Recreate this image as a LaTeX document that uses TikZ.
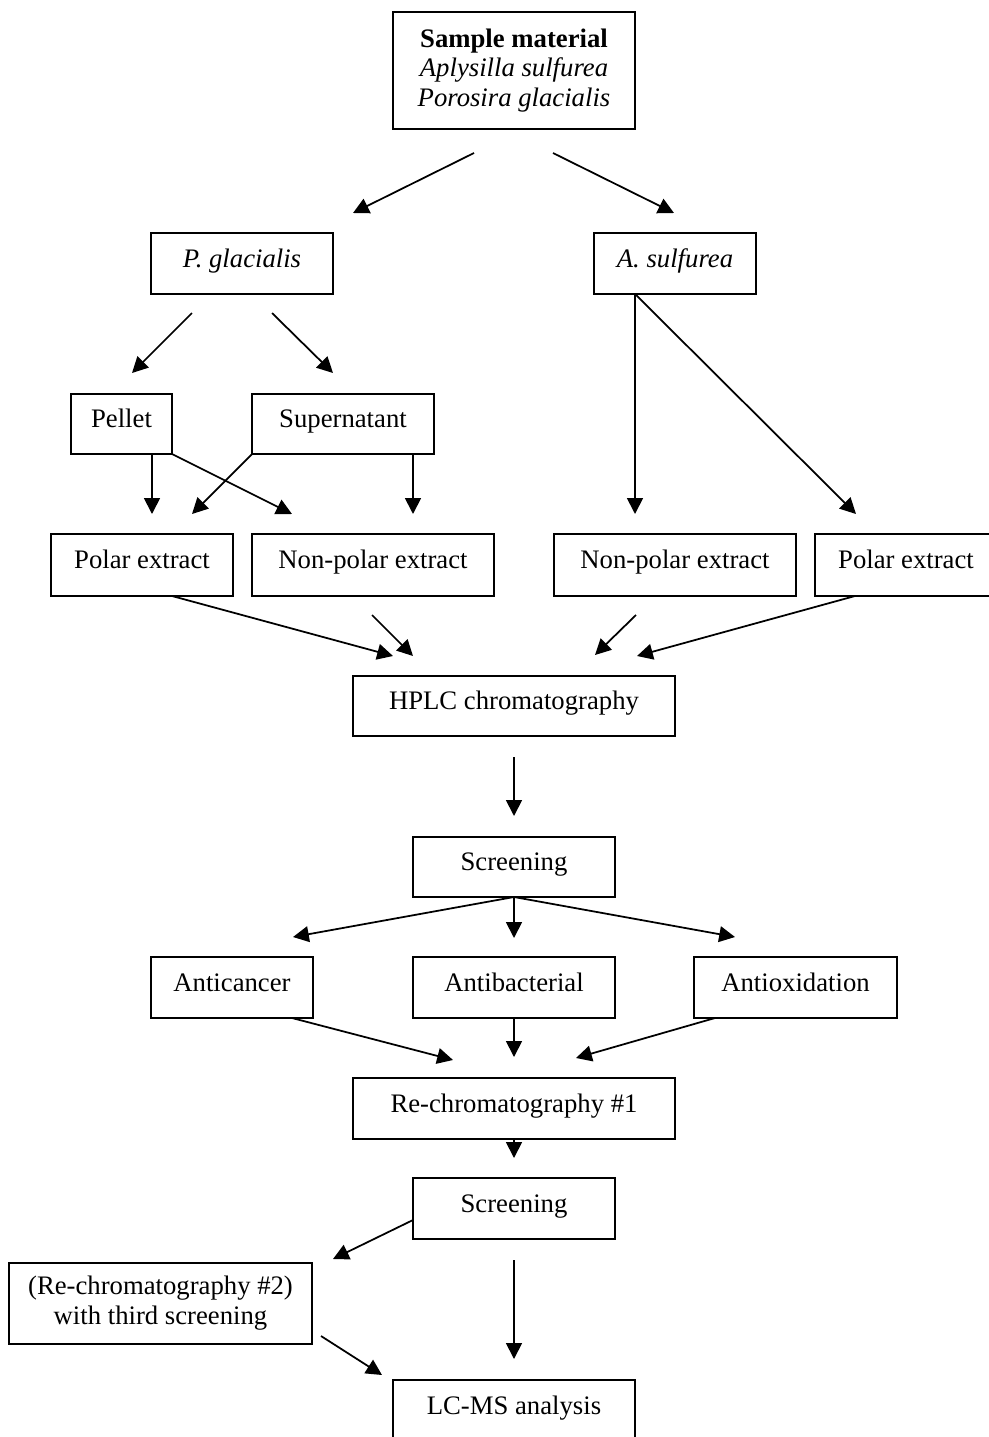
\documentclass[tikz,border=0pt]{standalone}
\usepackage{fontspec}
\setmainfont{Liberation Serif}
\usetikzlibrary{arrows.meta}

\tikzset{
  box/.style={draw, line width=1pt, inner sep=0pt, outer sep=0pt, align=center},
  oneline/.style={box, text height=7.5pt, text depth=3pt},
  arr/.style={line width=1pt, -{Triangle[length=9pt,width=9pt]}}
}

\begin{document}
\begin{tikzpicture}[x=0.02cm, y=-0.02cm, font=\fontsize{15.2}{17}\selectfont]
        \useasboundingbox (0,0) rectangle (988,1437);

        % Cajas
        \node[box, minimum width=4.84cm, minimum height=2.34cm] (sample) at (514,70.5)
          {\textbf{Sample material}\\ \textit{Aplysilla sulfurea}\\ \textit{Porosira glacialis}};
        \node[oneline, minimum width=3.64cm, minimum height=1.22cm] (pgla) at (242,263.5) {\textit{P. glacialis}};
        \node[oneline, minimum width=3.24cm, minimum height=1.22cm] (asul) at (675,263.5) {\textit{A. sulfurea}};
        \node[oneline, minimum width=2.02cm, minimum height=1.20cm] (pellet) at (121.5,424) {Pellet};
        \node[oneline, minimum width=3.64cm, minimum height=1.20cm] (super) at (343,424) {Supernatant};
        \node[oneline, minimum width=3.64cm, minimum height=1.24cm] (polL) at (142,565) {Polar extract};
        \node[oneline, minimum width=4.84cm, minimum height=1.24cm] (nonL) at (373,565) {Non-polar extract};
        \node[oneline, minimum width=4.84cm, minimum height=1.24cm] (nonR) at (675,565) {Non-polar extract};
        \node[oneline, minimum width=3.64cm, minimum height=1.24cm] (polR) at (906,565) {Polar extract};
        \node[oneline, minimum width=6.44cm, minimum height=1.20cm] (hplc) at (514,706) {HPLC chromatography};
        \node[oneline, minimum width=4.04cm, minimum height=1.20cm] (scr1) at (514,867) {Screening};
        \node[oneline, minimum width=3.24cm, minimum height=1.22cm] (acan) at (232,987.5) {Anticancer};
        \node[oneline, minimum width=4.04cm, minimum height=1.22cm] (abac) at (514,987.5) {Antibacterial};
        \node[oneline, minimum width=4.06cm, minimum height=1.22cm] (aox) at (795.5,987.5) {Antioxidation};
        \node[oneline, minimum width=6.44cm, minimum height=1.22cm] (rc1) at (514,1108.5) {Re-chromatography \#1};
        \node[oneline, minimum width=4.04cm, minimum height=1.22cm] (scr2) at (514,1208.5) {Screening};
        \node[box, minimum width=6.06cm, minimum height=1.62cm] (rc2) at (160.5,1303.5)
          {(Re-chromatography \#2)\\ with third screening};
        \node[oneline, minimum width=4.84cm, minimum height=1.22cm] (lcms) at (514,1410.5) {LC-MS analysis};

        % Extremos sueltos
        \coordinate (s1) at (474,153);   \coordinate (t1) at (353,213);
        \coordinate (s2) at (553,153);   \coordinate (t2) at (674,213);
        \coordinate (s3) at (192,313);   \coordinate (t3) at (132,373);
        \coordinate (s4) at (272,313);   \coordinate (t4) at (333,373);
        \coordinate (t5) at (152,514);   \coordinate (t6) at (292,514);
        \coordinate (t7) at (192,514);   \coordinate (t8) at (413,514);
        \coordinate (t9) at (635,514);   \coordinate (t10) at (856,514);
        \coordinate (t11) at (393,656);
        \coordinate (s12) at (372,615);  \coordinate (t12) at (413,656);
        \coordinate (s13) at (636,615);  \coordinate (t13) at (595,655);
        \coordinate (t14) at (637,656);
        \coordinate (s15) at (514,757);  \coordinate (t15) at (514,816);
        \coordinate (t16) at (293,937);  \coordinate (t17) at (514,938);
        \coordinate (t18) at (735,937);
        \coordinate (t19) at (453,1060); \coordinate (t20) at (514,1057);
        \coordinate (t21) at (576,1058);
        \coordinate (t22) at (514,1158);
        \coordinate (t23) at (333,1259);
        \coordinate (s24) at (514,1260); \coordinate (t24) at (514,1359);
        \coordinate (s25) at (321,1336); \coordinate (t25) at (382,1375);

        % Flechas
        \draw[arr] (s1) -- (t1);
        \draw[arr] (s2) -- (t2);
        \draw[arr] (s3) -- (t3);
        \draw[arr] (s4) -- (t4);
        \draw[arr] (pellet.south -| t5) -- (t5);
        \draw[arr] (pellet.south east) -- (t6);
        \draw[arr] (super.south west) -- (t7);
        \draw[arr] (super.south -| t8) -- (t8);
        \draw[arr] (asul.south -| t9) -- (t9);
        \draw[arr] (asul.south -| t9) -- (t10);
        \draw[arr] ([xshift=0.6cm]polL.south) -- (t11);
        \draw[arr] (s12) -- (t12);
        \draw[arr] (s13) -- (t13);
        \draw[arr] ([xshift=-1.02cm]polR.south) -- (t14);
        \draw[arr] (s15) -- (t15);
        \draw[arr] (scr1.south) -- (t16);
        \draw[arr] (scr1.south) -- (t17);
        \draw[arr] (scr1.south) -- (t18);
        \draw[arr] ([xshift=1.2cm]acan.south) -- (t19);
        \draw[arr] (abac.south) -- (t20);
        \draw[arr] ([xshift=-1.61cm]aox.south) -- (t21);
        \draw[arr] (rc1.south) -- (t22);
        \draw[arr] ([yshift=-0.23cm]scr2.west) -- (t23);
        \draw[arr] (s24) -- (t24);
        \draw[arr] (s25) -- (t25);
\end{tikzpicture}
\end{document}
